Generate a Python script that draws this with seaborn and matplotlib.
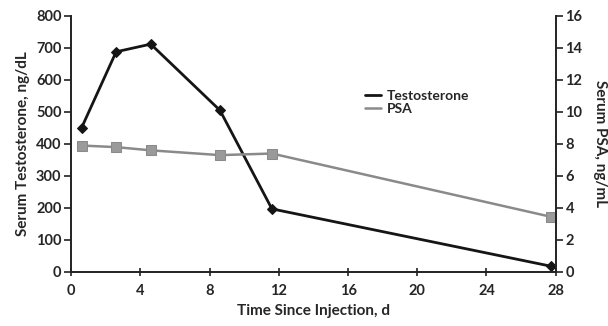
import matplotlib
matplotlib.use("Agg")
import matplotlib.pyplot as plt
import seaborn as sns
import pandas as pd
from matplotlib.lines import Line2D

days = [0.6, 2.6, 4.6, 8.6, 11.6, 27.7]
testosterone = [450, 688, 712, 505, 197, 18]
psa = [7.9, 7.8, 7.6, 7.3, 7.4, 3.45]
x_ticks = [0, 4, 8, 12, 16, 20, 24, 28]
left_ticks = [0, 100, 200, 300, 400, 500, 600, 700, 800]
right_ticks = [0, 2, 4, 6, 8, 10, 12, 14, 16]

sns.set_style("white")
plt.rcParams['font.family'] = ['Lato', 'DejaVu Sans']
plt.rcParams['font.weight'] = 'bold'

df = pd.DataFrame({"day": days, "T": testosterone, "PSA": psa})

fig = plt.figure(figsize=(6.08, 3.26), dpi=100)
ax = fig.add_axes([0.117, 0.166, 0.797, 0.785])
ax2 = ax.twinx()

sns.lineplot(data=df, x="day", y="T", ax=ax, color="#151515", lw=2.0,
             marker="D", markersize=5, markeredgecolor="#151515", label="Testosterone", legend=False)
sns.lineplot(data=df, x="day", y="PSA", ax=ax2, color="#8a8a8a", lw=1.8,
             marker="s", markersize=7, markeredgecolor="#8a8a8a", markerfacecolor="#9a9a9a",
             label="PSA", legend=False)

ax.set_xlim(0, 28)
ax.set_ylim(0, 800)
ax2.set_ylim(0, 16)
ax.set_xticks(x_ticks)
ax.set_yticks(left_ticks)
ax2.set_yticks(right_ticks)

for a in (ax, ax2):
    for s in a.spines.values():
        s.set_visible(False)
ax.spines['left'].set_visible(True)
ax.spines['bottom'].set_visible(True)
ax2.spines['right'].set_visible(True)
for s in (ax.spines['left'], ax.spines['bottom'], ax2.spines['right']):
    s.set_color("#222222")
    s.set_linewidth(1.4)

ax.tick_params(axis='y', direction='out', length=5, width=1.2, color="#222222", labelsize=10.5, pad=2, left=True)
ax.tick_params(axis='x', direction='inout', length=6, width=1.2, color="#222222", labelsize=10.5, pad=6, bottom=True)
ax2.tick_params(axis='y', direction='out', length=5, width=1.2, color="#222222", labelsize=10.5, pad=2, right=True)

ax.set_xlabel("Time Since Injection, d", fontsize=11, fontweight='bold', labelpad=4)
ax.set_ylabel("Serum Testosterone, ng/dL", fontsize=11, fontweight='bold', labelpad=4)
ax2.set_ylabel("Serum PSA, ng/mL", fontsize=11, fontweight='bold', rotation=270, labelpad=18)

handles = [Line2D([], [], color="#151515", lw=2.0), Line2D([], [], color="#8a8a8a", lw=1.8)]
leg = ax2.legend(handles, ["Testosterone", "PSA"], loc="upper left", bbox_to_anchor=(0.58, 0.76),
                 frameon=False, handlelength=1.2, handletextpad=0.4, labelspacing=0.1, fontsize=10)
for t in leg.get_texts():
    t.set_fontweight('bold')

fig.savefig("out.png", dpi=100)
